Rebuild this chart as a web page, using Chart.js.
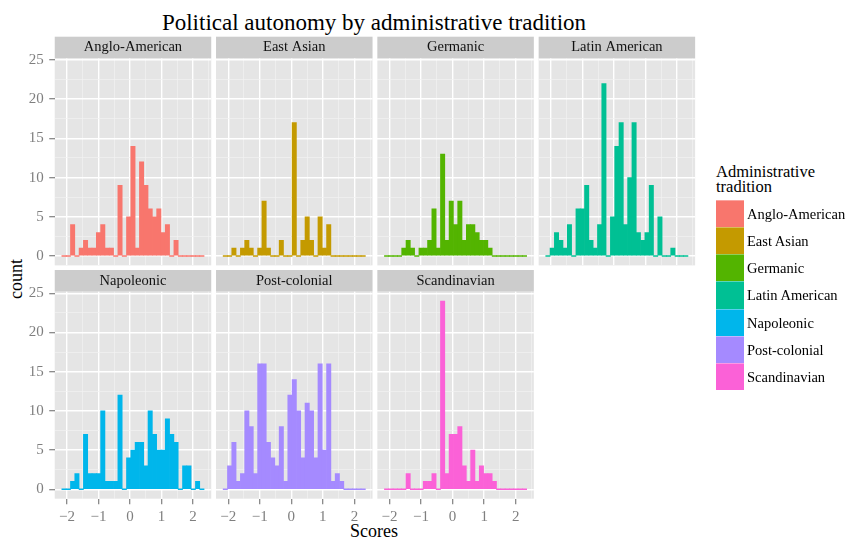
<!DOCTYPE html>
<html>
<head>
<meta charset="utf-8">
<script src="https://cdn.jsdelivr.net/npm/chart.js@4.4.1/dist/chart.umd.min.js"></script>
<style>
  html, body { margin: 0; padding: 0; background: #ffffff; }
  #figure { position: relative; width: 856px; height: 539px; overflow: hidden;
            font-family: 'Liberation Serif', serif; color: #000; }
  #figure canvas { position: absolute; left: 0; top: 0; }
  .txt { position: absolute; white-space: nowrap; }
  #title { left: 0; width: 748px; top: 11px; font-size: 23px; line-height: 23px; text-align: center; }
  #xlab { left: 0; width: 748px; top: 522px; font-size: 18px; line-height: 18px; text-align: center; }
  #ylab { left: -14px; width: 60px; top: 269.5px; font-size: 18px; line-height: 18px; text-align: center;
          transform: rotate(-90deg); }
  #legend-title { left: 716px; top: 164px; font-size: 16.5px; line-height: 15px; }
  .key { position: absolute; left: 716px; width: 27.5px; box-shadow: inset 0 1px 0 rgba(255,255,255,0.35); }
  .key-label { position: absolute; left: 747px; font-size: 14.5px; white-space: nowrap; color: #000; }
</style>
</head>
<body>
<div id="figure">
  <div id="title" class="txt">Political autonomy by administrative tradition</div>
  <div id="ylab" class="txt">count</div>
  <div id="xlab" class="txt">Scores</div>
  <div id="legend-title" class="txt">Administrative<br>tradition</div>
</div>
<script>
// Histogram breaks shared by every facet
const SCORE_BIN_START = -2.16;
const SCORE_BIN_WIDTH = 0.1366;
const SCORE_BIN_COUNT = 33;

// Axis limits (bin range plus 5% padding) and grid positions
const scoreAxisMin = -2.3855;
const scoreAxisMax = 2.5755;
const countAxisMin = -1.2;
const countAxisMax = 25.2;
const scoreMajorTicks = [-2, -1, 0, 1, 2];
const scoreMinorTicks = [-1.5, -0.5, 0.5, 1.5, 2.5];
const countMajorTicks = [0, 5, 10, 15, 20, 25];
const countMinorTicks = [2.5, 7.5, 12.5, 17.5, 22.5];

const traditionNames = ['Anglo-American', 'East Asian', 'Germanic', 'Latin American',
                        'Napoleonic', 'Post-colonial', 'Scandinavian'];
const traditionColours = ['#F8766D', '#C49A00', '#53B400', '#00C094',
                          '#00B6EB', '#A58AFF', '#FB61D7'];

// Counts per score bin, one list per administrative tradition
const angloAmericanCounts = [0,0,4,0,1,2,1,1,3,4,1,1,0,9,0,5,14,1,12,9,6,5,6,3,4,0,2,0,0,0,0,0,0];
const eastAsianCounts     = [0,0,1,0,1,2,1,0,1,7,1,0,0,2,0,0,17,0,2,5,2,0,5,1,4,0,0,0,0,0,0,0,0];
const germanicCounts      = [0,0,0,0,1,2,1,0,1,1,2,6,1,13,2,7,4,7,2,4,4,3,2,2,1,0,0,0,0,0,0,0,0];
const latinAmericanCounts = [0,1,3,2,1,4,0,6,6,9,2,1,4,22,0,5,14,17,4,10,17,3,2,3,9,0,5,0,0,1,0,0,0];
const napoleonicCounts    = [0,0,1,2,0,7,2,2,2,10,1,1,1,12,0,4,5,6,6,3,10,7,5,5,9,7,6,0,3,3,0,1,0];
const postColonialCounts  = [0,3,6,1,2,10,8,2,16,16,6,4,3,8,1,12,14,10,4,11,10,4,16,5,16,1,2,1,0,0,0,0,0];
const scandinavianCounts  = [0,0,0,0,0,2,0,0,0,1,1,2,0,24,2,7,7,8,3,1,5,1,3,2,2,1,0,0,0,0,0,0,0];

const traditionCounts = [angloAmericanCounts, eastAsianCounts, germanicCounts, latinAmericanCounts,
                         napoleonicCounts, postColonialCounts, scandinavianCounts];

// Facet geometry (pixels)
const FACET_LEFT0 = 54.74, FACET_STEP_X = 161.3, FACET_W = 156.5;
const STRIP_TOPS = [36.7, 270.0], STRIP_H = 21.7, FACET_H = 207;
const FIG_W = 856, FIG_H = 539;
const COUNT_AXIS_W = 50, SCORE_AXIS_H = 30;

const FONT = "'Liberation Serif', serif";
Chart.defaults.font.family = FONT;

const binCentres = [];
for (let k = 0; k < SCORE_BIN_COUNT; k++) binCentres.push(SCORE_BIN_START + SCORE_BIN_WIDTH * (k + 0.5));

const scoreGrid = scoreMajorTicks.concat(scoreMinorTicks).sort((a, b) => a - b);
const countGrid = countMajorTicks.concat(countMinorTicks).sort((a, b) => a - b);
const minusLabel = v => (v < 0 ? '\u2212' + Math.abs(v) : String(v));

// Grey strip behind the facet title and grey panel background
const facetBackdrop = {
  id: 'facetBackdrop',
  beforeDraw(chart) {
    const { ctx, chartArea: a } = chart;
    ctx.save();
    ctx.fillStyle = '#CCCCCC';
    ctx.fillRect(a.left, a.top - STRIP_H, a.width, STRIP_H);
    ctx.fillStyle = '#E5E5E5';
    ctx.fillRect(a.left, a.top, a.width, a.height);
    ctx.restore();
  }
};

const figure = document.getElementById('figure');

traditionNames.forEach((name, i) => {
  const row = i < 4 ? 0 : 1;
  const col = i % 4;
  const left = FACET_LEFT0 + col * FACET_STEP_X;
  const stripTop = STRIP_TOPS[row];
  const bottom = stripTop + STRIP_H + FACET_H;
  const showCountAxis = col === 0;
  const showScoreAxis = row === 1;

  const canvas = document.createElement('canvas');
  canvas.width = FIG_W; canvas.height = FIG_H;
  canvas.style.width = FIG_W + 'px'; canvas.style.height = FIG_H + 'px';
  figure.appendChild(canvas);

  new Chart(canvas, {
    type: 'bar',
    data: {
      datasets: [{
        label: name,
        data: traditionCounts[i].map((c, k) => ({ x: binCentres[k], y: c })),
        backgroundColor: traditionColours[i],
        borderWidth: 0,
        barPercentage: 1,
        categoryPercentage: 1,
        minBarLength: 1
      }]
    },
    options: {
      responsive: false,
      animation: false,
      devicePixelRatio: 1,
      events: [],
      layout: { padding: {
        left: left - COUNT_AXIS_W,
        right: FIG_W - left - FACET_W,
        top: stripTop,
        bottom: FIG_H - bottom - SCORE_AXIS_H
      } },
      plugins: {
        legend: { display: false },
        tooltip: { enabled: false },
        title: {
          display: true, text: name, color: '#111111', fullSize: false,
          font: { family: FONT, size: 14.5, weight: 'normal', lineHeight: 1.2 },
          padding: { top: 2.15, bottom: 2.15 }
        }
      },
      scales: {
        x: {
          type: 'linear', min: scoreAxisMin, max: scoreAxisMax, offset: false,
          afterBuildTicks: s => { s.ticks = scoreGrid.map(v => ({ value: v })); },
          afterFit: s => { s.height = SCORE_AXIS_H; s.paddingLeft = 0; s.paddingRight = 0; },
          border: { display: false },
          grid: {
            offset: false, drawTicks: true, tickLength: 5.5,
            color: c => scoreMajorTicks.includes(c.tick.value) ? '#FFFFFF' : '#F2F2F2',
            lineWidth: c => scoreMajorTicks.includes(c.tick.value) ? 1.4 : 0.7,
            tickColor: c => (showScoreAxis && scoreMajorTicks.includes(c.tick.value)) ? '#7F7F7F' : 'rgba(0,0,0,0)',
            tickWidth: 1.2
          },
          ticks: {
            display: showScoreAxis, autoSkip: false, maxRotation: 0, minRotation: 0, padding: 3.5,
            color: '#7F7F7F', font: { family: FONT, size: 15 },
            callback: v => scoreMajorTicks.includes(v) ? minusLabel(v) : ''
          }
        },
        y: {
          type: 'linear', min: countAxisMin, max: countAxisMax,
          afterBuildTicks: s => { s.ticks = countGrid.map(v => ({ value: v })); },
          afterFit: s => { s.width = COUNT_AXIS_W; s.paddingTop = 0; s.paddingBottom = 0; },
          border: { display: false },
          grid: {
            drawTicks: true, tickLength: 5.5,
            color: c => countMajorTicks.includes(c.tick.value) ? '#FFFFFF' : '#F2F2F2',
            lineWidth: c => countMajorTicks.includes(c.tick.value) ? 1.4 : 0.7,
            tickColor: c => (showCountAxis && countMajorTicks.includes(c.tick.value)) ? '#7F7F7F' : 'rgba(0,0,0,0)',
            tickWidth: 1.2
          },
          ticks: {
            display: showCountAxis, autoSkip: false, padding: 5.5,
            color: '#7F7F7F', font: { family: FONT, size: 15 },
            callback: v => countMajorTicks.includes(v) ? String(v) : ''
          }
        }
      }
    },
    plugins: [facetBackdrop]
  });
});

// Legend: one colour key per tradition
const KEY_TOP = 200, KEY_H = 27.14;
traditionNames.forEach((name, i) => {
  const key = document.createElement('div');
  key.className = 'key';
  key.style.top = (KEY_TOP + i * KEY_H) + 'px';
  key.style.height = KEY_H + 'px';
  key.style.background = traditionColours[i];
  figure.appendChild(key);
  const label = document.createElement('div');
  label.className = 'key-label';
  label.textContent = name;
  label.style.top = (KEY_TOP + i * KEY_H + 1) + 'px';
  label.style.height = KEY_H + 'px';
  label.style.lineHeight = KEY_H + 'px';
  figure.appendChild(label);
});
</script>
</body>
</html>
